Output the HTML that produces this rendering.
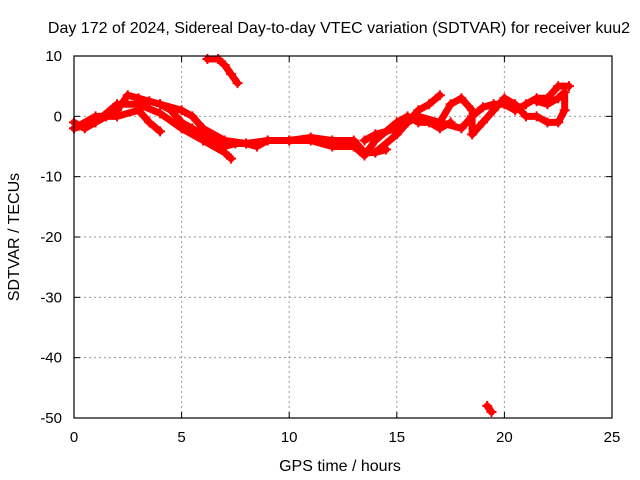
<!DOCTYPE html>
<html><head><meta charset="utf-8"><style>
body{margin:0;background:#fff}
svg{display:block;font-family:"Liberation Sans",sans-serif}
</style></head><body>
<svg id="chart" width="640" height="480">
<rect width="640" height="480" fill="#fff"/>
<g id="grid"></g>
<g id="series"></g>
<rect x="74" y="56" width="538" height="362" fill="none" stroke="#000" stroke-width="1.2"/>
<g id="axes"></g>
<text x="339" y="33" text-anchor="middle" font-size="16">Day 172 of 2024, Sidereal Day-to-day VTEC variation (SDTVAR) for receiver kuu2</text>
<text x="340" y="471" text-anchor="middle" font-size="16">GPS time / hours</text>
<text x="19" y="237" text-anchor="middle" font-size="16" transform="rotate(-90 19 237)">SDTVAR / TECUs</text>
</svg>
<script>
const xTicks=[0,5,10,15,20,25];
const yTicks=[10,0,-10,-20,-30,-40,-50];
const trackA=[[0,-1],[0.5,-2],[1,-1],[1.5,0],[2,1],[2.5,3.5],[3,3],[3.5,2.5],[4,2],[4.5,1],[5,-1],[5.5,-2],[6,-3],[6.5,-4],[7,-5],[7.5,-4.5],[8,-4.5],[8.5,-5],[9,-4],[10,-4],[11,-3.5],[12,-4],[13,-4],[13.5,-6],[14,-6],[14.5,-5.5]];
const trackB=[[0,-2],[1,-1],[2,2],[3,2],[4,0.5],[5,-2],[6,-4],[7,-6],[7.3,-7]];
const trackC=[[0,-2],[1,0],[2,0],[3,1],[3.5,-1],[4,-2.5]];
const trackD=[[4,2],[5,1],[5.5,0],[6,-2],[7,-4],[8,-4.5],[9,-4],[10,-4],[11,-4],[12,-5],[13,-5],[13.5,-6.5],[14,-4]];
const trackE=[[6.2,9.5],[6.7,9.5],[7,8.5],[7.3,7],[7.6,5.5]];
const trackF=[[19.2,-48],[19.4,-49]];
const trackG=[[13.5,-4],[14,-3],[15,-2],[16,0],[17,-1],[18,-2],[18.5,0],[19,1.5],[19.5,2],[20,2],[20.5,1],[21,2],[21.5,3],[22,3],[22.5,5],[23,5]];
const trackH=[[14,-6],[15,-3],[15.5,-1],[16,1],[16.5,2],[17,3.5]];
const trackI=[[17,-1],[17.5,2],[18,3],[18.5,1],[18.5,-3],[19,-1],[19.5,1],[20,3],[20.5,2],[21,0],[21.5,0],[22,-1],[22.5,-1],[22.8,1],[22.8,4],[22.5,3],[22,2],[21.5,2.5]];
const trackJ=[[14,-4],[15,-1],[15.5,0],[16,-1],[16.5,-1],[17,-2],[17.5,-1]];
const tracks=[trackA,trackB,trackC,trackD,trackE,trackF,trackG,trackH,trackI,trackJ];
const NS="http://www.w3.org/2000/svg";
const X=h=>74+h*538/25, Y=v=>56+(10-v)*362/60;
function mk(t,a,p){const e=document.createElementNS(NS,t);for(const k in a)e.setAttribute(k,a[k]);p.appendChild(e);return e;}
const grid=document.getElementById('grid'),axes=document.getElementById('axes'),ser=document.getElementById('series');
xTicks.forEach(t=>{const x=X(t);
 if(t>0&&t<25){const g=mk('line',{x1:x,x2:x,y1:56,y2:418,stroke:'#999','stroke-dasharray':'2,3'},grid);}
 mk('line',{x1:x,x2:x,y1:418,y2:412,stroke:'#000'},axes);mk('line',{x1:x,x2:x,y1:56,y2:62,stroke:'#000'},axes);
 const l=mk('text',{x:x,y:442,'text-anchor':'middle','font-size':15},axes);l.textContent=t;
 });
yTicks.forEach(t=>{const y=Y(t);
 if(t<10&&t>-50){const g=mk('line',{x1:74,x2:612,y1:y,y2:y,stroke:'#999','stroke-dasharray':'2,3'},grid);}
 mk('line',{x1:74,x2:80,y1:y,y2:y,stroke:'#000'},axes);mk('line',{x1:612,x2:606,y1:y,y2:y,stroke:'#000'},axes);
 const l=mk('text',{x:62,y:y+5,'text-anchor':'end','font-size':15},axes);l.textContent=t;
 });
tracks.forEach(tr=>{
 const pl=mk('polyline',{points:tr.map(p=>X(p[0])+','+Y(p[1])).join(' '),fill:'none',stroke:'#f00','stroke-width':7,'stroke-linejoin':'round','stroke-linecap':'round'},ser);
 
 
 tr.forEach(p=>{const x=X(p[0]),y=Y(p[1]);
  const m=mk('path',{d:`M${x-5},${y}H${x+5}M${x},${y-5}V${y+5}`,stroke:'#f00','stroke-width':2},ser);
  
  });
});
</script>
</body></html>
